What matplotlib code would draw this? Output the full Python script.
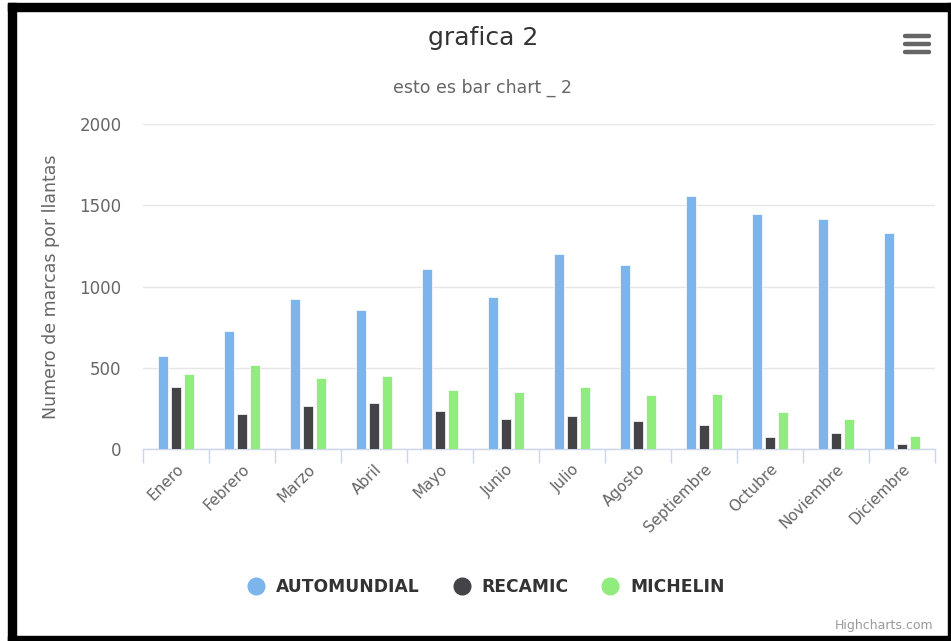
import matplotlib.pyplot as plt
import numpy as np
from matplotlib.lines import Line2D
from matplotlib.patches import Rectangle

meses = ['Enero', 'Febrero', 'Marzo', 'Abril', 'Mayo', 'Junio', 'Julio',
         'Agosto', 'Septiembre', 'Octubre', 'Noviembre', 'Diciembre']
automundial = [572, 729, 925, 856, 1110, 933, 1200, 1131, 1554, 1446, 1413, 1327]
recamic = [379, 214, 262, 281, 233, 183, 204, 175, 146, 75, 96, 29]
michelin = [464, 516, 437, 448, 366, 350, 379, 333, 341, 225, 183, 83]

series = [('AUTOMUNDIAL', automundial, '#7cb5ec'),
          ('RECAMIC', recamic, '#434348'),
          ('MICHELIN', michelin, '#90ed7d')]

W, H = 951, 641


def fx(x):
    return x / W


def fy(y):
    return 1 - y / H


def plot_bar_chart():
    fig = plt.figure(figsize=(W / 100, H / 100), dpi=100)
    ax_left, ax_right = 143, 935
    ax = fig.add_axes([fx(ax_left), fy(449), fx(ax_right) - fx(ax_left), fy(124) - fy(449)])

    x = np.arange(len(meses))
    for i, (name, vals, color) in enumerate(series):
        ax.bar(x + (i - 1) * 0.2, vals, width=0.145, color=color,
               edgecolor='white', linewidth=0.5, zorder=3)

    ax.set_xlim(-0.5, len(meses) - 0.5)
    ax.set_ylim(0, 2000)
    ax.set_yticks([0, 500, 1000, 1500, 2000])
    ax.grid(axis='y', color='#e6e6e6', linewidth=1)
    ax.set_axisbelow(True)

    for s in ['top', 'right', 'left']:
        ax.spines[s].set_visible(False)
    ax.spines['bottom'].set_color('#ccd6eb')
    ax.spines['bottom'].set_linewidth(1)

    # category labels in the middle, ticks on the boundaries
    ax.set_xticks(x)
    ax.set_xticklabels(meses, rotation=45, ha='right', rotation_mode='anchor',
                       color='#666666', fontsize=11)
    ax.tick_params(axis='x', which='major', length=0, pad=9)
    ax.set_xticks(np.arange(-0.5, len(meses)), minor=True)
    ax.tick_params(axis='x', which='minor', length=10, color='#ccd6eb', width=1)
    ax.tick_params(axis='y', length=0, pad=15.5, labelcolor='#666666', labelsize=12)

    ax.set_ylabel('Numero de marcas por llantas', color='#666666', fontsize=12.5)
    ax.yaxis.set_label_coords((60 - ax_left) / (ax_right - ax_left), 0.5)

    # title, subtitle and credits
    fig.text(fx(483), fy(38), 'grafica 2', ha='center', va='center',
             fontsize=18, color='#333333')
    fig.text(fx(483), fy(88), 'esto es bar chart _ 2', ha='center', va='center',
             fontsize=12.5, color='#666666')
    fig.text(fx(933), fy(625), 'Highcharts.com', ha='right', va='center',
             fontsize=9, color='#999999')

    # menu icon
    for yy in [36, 44, 52]:
        fig.add_artist(Line2D([fx(905), fx(929)], [fy(yy), fy(yy)], color='#666666',
                              linewidth=3.2, solid_capstyle='round'))

    # legend
    handles = [Line2D([], [], marker='o', linestyle='', markersize=12,
                      markerfacecolor=c, markeredgecolor=c) for _, _, c in series]
    leg = fig.legend(handles, [s[0] for s in series], loc='center',
                     bbox_to_anchor=(fx(484), fy(587)), ncol=3, frameon=False,
                     handletextpad=0.4, handlelength=1.5, columnspacing=1.7,
                     prop={'weight': 'bold', 'size': 12.3})
    for t in leg.get_texts():
        t.set_color('#333333')

    # black frame of the screenshot
    for (x0, y0, x1, y1) in [(8, 3, 16, 641), (8, 3, 951, 11),
                             (948, 3, 951, 641), (8, 636, 951, 641)]:
        fig.add_artist(Rectangle((fx(x0), fy(y1)), fx(x1) - fx(x0), fy(y0) - fy(y1),
                                 transform=fig.transFigure, color='black', zorder=10))

    plt.savefig('out.png', dpi=100)


plot_bar_chart()
